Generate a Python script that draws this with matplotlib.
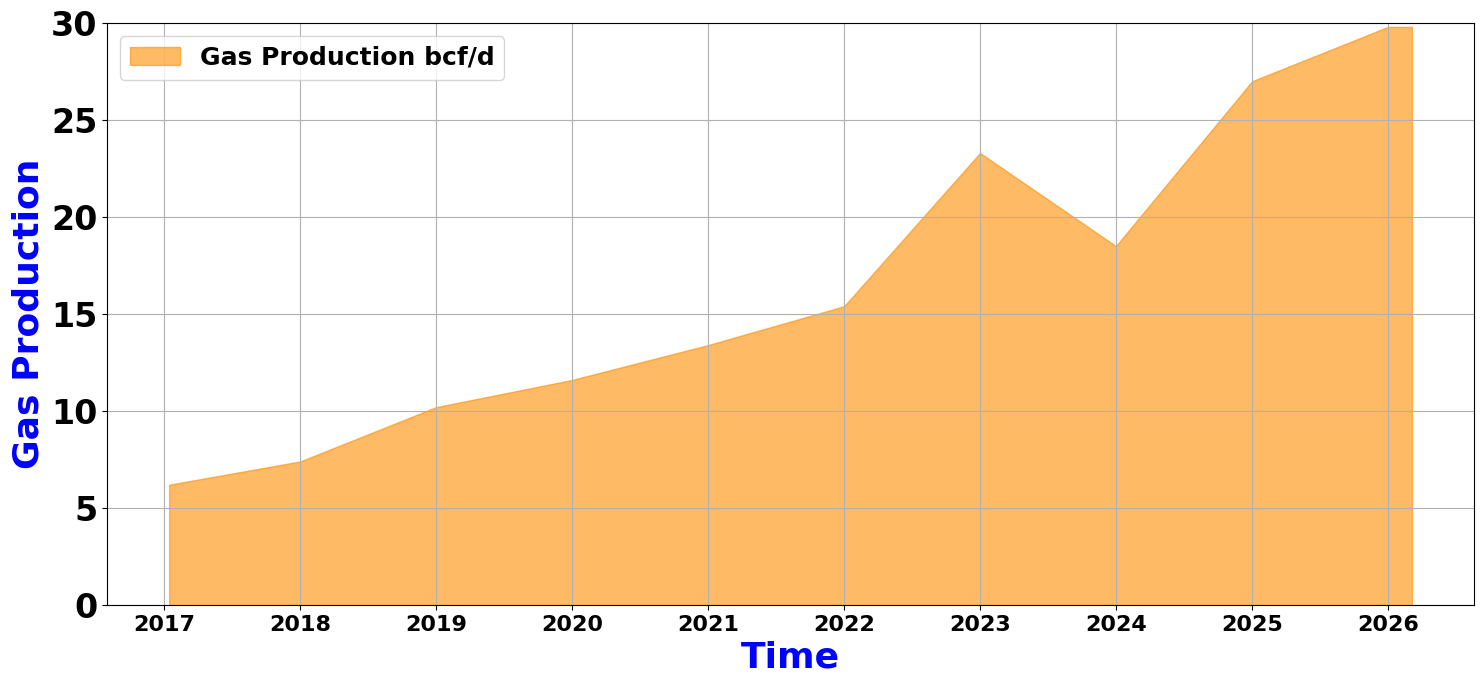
import pandas as pd
import matplotlib
matplotlib.use("Agg")
import matplotlib.pyplot as plt

# valori
dates = ["2017-01-14", "2018-01-01", "2019-01-01", "2020-01-01", "2021-01-01",
         "2022-01-01", "2023-01-01", "2024-01-01", "2025-01-01", "2026-01-01",
         "2026-03-06"]
gas_bcfd = [6.2, 7.4, 10.2, 11.6, 13.4, 15.4, 23.3, 18.5, 27.0, 29.8, 29.8]

x = pd.to_datetime(dates)

fig = plt.figure(figsize=(14.84, 6.84), dpi=100)
ax = fig.add_axes([107 / 1484, 1 - 605 / 684, 1367 / 1484, 582 / 684])

ax.fill_between(x, gas_bcfd, color="darkorange", alpha=0.6,
                label="Gas Production bcf/d")

ax.set_ylim(0, 30)
ax.grid(True)
ax.set_xlabel("Time", fontsize=26, fontweight="bold", color="blue")
ax.set_ylabel("Gas Production", fontsize=26, fontweight="bold", color="blue")

for lbl in ax.get_xticklabels():
    lbl.set_fontsize(16)
    lbl.set_fontweight("bold")
for lbl in ax.get_yticklabels():
    lbl.set_fontsize(24)
    lbl.set_fontweight("bold")

ax.legend(loc="upper left", prop={"size": 18, "weight": "bold"})

fig.savefig("out.png", dpi=100)
